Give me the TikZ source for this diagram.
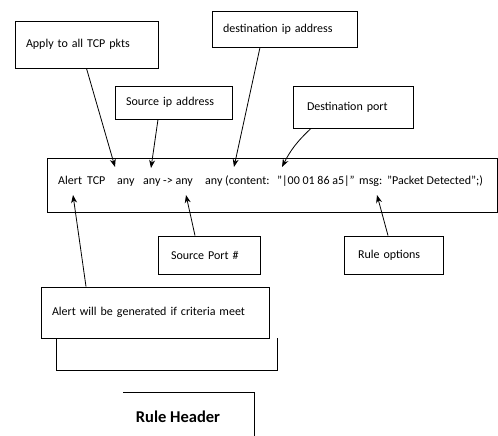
\documentclass[tikz,border=0pt]{standalone}
\usepackage{fontspec}
\setmainfont{Carlito}
\usetikzlibrary{shapes,arrows.meta,positioning,calc}

\begin{document}
\begin{tikzpicture}[x=1pt, y=-1pt,
    callout/.style={draw, line width=0.9pt, inner ysep=0pt, align=left, font=\fontsize{12}{14}\selectfont},
    ruleword/.style={anchor=base west, inner sep=0pt, font=\fontsize{12}{14}\selectfont},
    pointer/.style={-{Stealth[length=8pt,width=6pt]}, line width=0.8pt}]
    \useasboundingbox (0,0) rectangle (498,436);

    % main rule line
    \node (rule) [callout, minimum width=450pt, minimum height=54pt] at (272,185) {};
    \node (wAlert) [ruleword] at (58,184) {Alert};
    \node (wTCP) [ruleword] at (87,184) {TCP};
    \node (wAny1) [ruleword] at (117,184) {any};
    \node (wAny2) [ruleword] at (143,184) {any -> any};
    \node (wAny3) [ruleword] at (205,184) {any (content:};
    \node (wHex) [ruleword] at (277,184) {"|00 01 86 a5|"};
    \node (wMsg) [ruleword] at (359,184) {msg:};
    \node (wText) [ruleword] at (387,184) {"Packet Detected";)};

    % labels above
    \node (apply) [callout, inner xsep=11pt, text width=121pt, minimum height=47pt] at (86.5,44.5) {Apply to all TCP pkts};
    \node (srcip) [callout, inner xsep=11pt, text width=95pt, minimum height=33pt] at (173.5,102.5) {Source ip address};
    \node (dstip) [callout, inner xsep=11pt, text width=123pt, minimum height=36pt] at (284.5,29) {destination ip address};
    \node (dstport) [callout, inner xsep=14pt, text width=92pt, minimum height=42pt] at (353,107) {Destination port};

    % labels below
    \node (srcport) [callout, inner xsep=13pt, text width=76pt, minimum height=38pt] at (209,255) {Source Port \#};
    \node (ruleopt) [callout, inner xsep=14pt, text width=71pt, minimum height=38pt] at (393.5,255) {Rule options};
    \node (alert) [callout, inner xsep=11pt, text width=206pt, minimum height=51pt] at (155,312.5) {Alert will be generated if criteria meet};

    % arrow targets in the rule
    \coordinate (tcpany) at (115,167);
    \coordinate (srcany) at (151,168);
    \coordinate (dstany) at (234,167);
    \coordinate (dstquote) at (282,167);
    \coordinate (alertword) at (73,195);
    \coordinate (srcportany) at (186,195);
    \coordinate (optmsg) at (377,195);

    \draw [pointer] (apply.south) -- (tcpany);
    \draw [pointer] ([xshift=-15.5pt]srcip.south) -- (srcany);
    \draw [pointer] ([xshift=-24.5pt]dstip.south) -- (dstany);
    \draw [pointer] ([xshift=-42pt]dstport.south) to[bend right=10] (dstquote);
    \draw [pointer] ([xshift=-69pt]alert.north) -- (alertword);
    \draw [pointer] ([xshift=-14pt]srcport.north) -- (srcportany);
    \draw [pointer] ([xshift=-5.5pt]ruleopt.north) -- (optmsg);

    % open boxes
    \draw [line width=0.9pt] (alert.south west) ++(16,0) coordinate (hdrl) -- ++(0,32) -| ([xshift=8pt]alert.south east);
    \draw [line width=0.9pt] (123,392) -- (254,392) -- (254,436);
    \node (header) [font=\fontsize{16.5}{18}\selectfont\bfseries] at (178,417) {Rule Header};
\end{tikzpicture}
\end{document}
